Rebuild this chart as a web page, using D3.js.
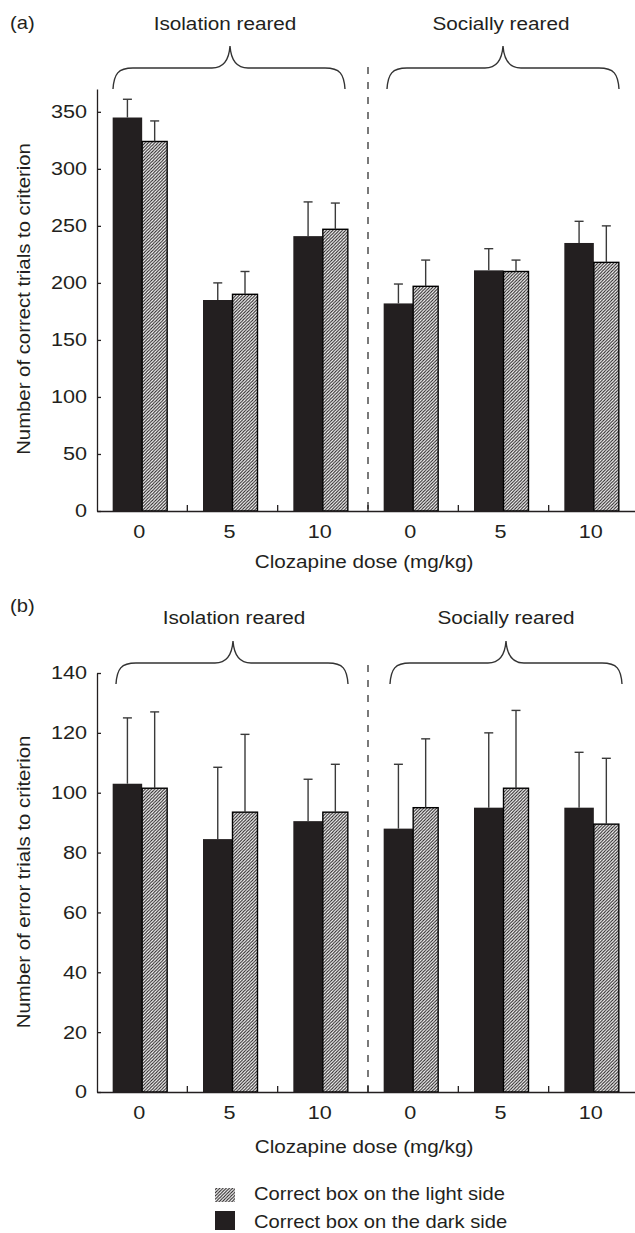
<!DOCTYPE html>
<html>
<head>
<meta charset="utf-8">
<script src="https://cdn.jsdelivr.net/npm/d3@7"></script>
<style>
body { margin: 0; background: #fff; }
svg text { font-family: "Liberation Sans", Arial, Helvetica, sans-serif; fill: #231f20; }
</style>
</head>
<body>
<svg id="chart" width="635" height="1233"></svg>
<script>
// groups on the x axis (isolation reared first, then socially reared)
var groups = ["iso0", "iso5", "iso10", "soc0", "soc5", "soc10"];
var doseLabels = ["0", "5", "10", "0", "5", "10"];

// panel (a): correct trials to criterion (mean, SEM)
var correctDark = [345, 185, 241, 182, 211, 235];
var correctDarkSem = [16, 15, 30, 17, 19, 19];
var correctLight = [324, 190, 247, 197, 210, 218];
var correctLightSem = [18, 20, 23, 23, 10, 32];

// panel (b): error trials to criterion (mean, SEM)
var errorDark = [103, 84.5, 90.5, 88, 95, 95];
var errorDarkSem = [22, 24, 14, 21.5, 25, 18.5];
var errorLight = [101.5, 93.5, 93.5, 95, 101.5, 89.5];
var errorLightSem = [25.5, 26, 16, 23, 26, 22];

var correctTicks = [0, 50, 100, 150, 200, 250, 300, 350];
var errorTicks = [0, 20, 40, 60, 80, 100, 120, 140];

var ink = "#231f20";
var svg = d3.select("#chart");

// hatch pattern for the light side bars
var defs = svg.append("defs");
var pat = defs.append("pattern")
	.attr("id", "hatch")
	.attr("patternUnits", "userSpaceOnUse")
	.attr("width", 3.2).attr("height", 3.2);
pat.append("rect").attr("width", 3.2).attr("height", 3.2).attr("fill", "#fff");
pat.append("path")
	.attr("d", "M-0.8,0.8 L0.8,-0.8 M0,3.2 L3.2,0 M2.4,4 L4,2.4")
	.attr("stroke", ink).attr("stroke-width", 1);

// horizontally widened text, like the original typesetting
function label(g, str, x, y, size, sx, anchor, rot) {
	var t = g.append("text")
		.attr("transform", "translate(" + x + "," + y + ")" + (rot ? " rotate(" + rot + ")" : "") + " scale(" + sx + ",1)")
		.attr("text-anchor", anchor || "start")
		.style("font-size", size + "px")
		.text(str);
	return t;
}

// curly brace, ends pointing down
function brace(g, x0, x1, pk, yTop) {
	var yH = yTop + 22, yE = yTop + 43;
	var d = "M" + x0 + "," + yE +
		" C" + (x0 + 1) + "," + (yH + 6) + " " + (x0 + 5) + "," + yH + " " + (x0 + 20) + "," + yH +
		" L" + (pk - 18) + "," + yH +
		" C" + (pk - 6) + "," + yH + " " + (pk - 1) + "," + (yH - 8) + " " + pk + "," + yTop +
		" C" + (pk + 1) + "," + (yH - 8) + " " + (pk + 6) + "," + yH + " " + (pk + 18) + "," + yH +
		" L" + (x1 - 20) + "," + yH +
		" C" + (x1 - 5) + "," + yH + " " + (x1 - 1) + "," + (yH + 6) + " " + x1 + "," + yE;
	g.append("path").attr("d", d).attr("fill", "none")
		.attr("stroke", "#333").attr("stroke-width", 1.4);
}

var x = d3.scaleBand().domain(groups).range([97, 639]).padding(0);
var darkW = 29.5, lightW = 25;

function drawPanel(p) {
	var g = svg.append("g");
	var y = d3.scaleLinear().domain([0, p.yMax]).range([p.y0, p.yTopAxis]);

	// panel letter and group headings
	label(g, p.letter, 10, p.letterY, 18, 1.12, "start");
	label(g, "Isolation reared", p.isoCx, p.headY, 18.5, 1.12, "middle");
	label(g, "Socially reared", p.socCx, p.headY, 18.5, 1.12, "middle");
	brace(g, p.isoB[0], p.isoB[1], p.isoB[2], p.braceTop);
	brace(g, p.socB[0], p.socB[1], p.socB[2], p.braceTop);

	// dashed divider between rearing conditions
	g.append("line")
		.attr("x1", x("soc0")).attr("x2", x("soc0"))
		.attr("y1", p.dashTop).attr("y2", p.y0)
		.attr("stroke", "#333").attr("stroke-width", 1.3)
		.attr("stroke-dasharray", "7,8");

	// bars
	var rows = groups.map(function(k, i) {
		return { key: k, dark: p.dark[i], darkSem: p.darkSem[i], light: p.light[i], lightSem: p.lightSem[i] };
	});
	function cx(d) { return x(d.key) + x.bandwidth() / 2; }

	g.selectAll(".dark").data(rows).enter().append("rect")
		.attr("class", "dark")
		.attr("x", function(d) { return cx(d) - darkW; })
		.attr("y", function(d) { return y(d.dark); })
		.attr("width", darkW)
		.attr("height", function(d) { return p.y0 - y(d.dark); })
		.attr("fill", ink);

	g.selectAll(".light").data(rows).enter().append("rect")
		.attr("class", "light")
		.attr("x", function(d) { return cx(d); })
		.attr("y", function(d) { return y(d.light); })
		.attr("width", lightW)
		.attr("height", function(d) { return p.y0 - y(d.light); })
		.attr("fill", "url(#hatch)")
		.attr("stroke", "#000").attr("stroke-width", 1.4);

	// error bars (upper half only)
	var errs = [];
	rows.forEach(function(d) {
		errs.push({ x: cx(d) - darkW / 2, v: d.dark, s: d.darkSem });
		errs.push({ x: cx(d) + lightW / 2, v: d.light, s: d.lightSem });
	});
	var eb = g.selectAll(".err").data(errs).enter().append("g").attr("class", "err")
		.attr("stroke", "#3a3a3a").attr("stroke-width", 1.4);
	eb.append("line")
		.attr("x1", function(d) { return d.x; }).attr("x2", function(d) { return d.x; })
		.attr("y1", function(d) { return y(d.v); })
		.attr("y2", function(d) { return y(d.v + d.s); });
	eb.append("line")
		.attr("x1", function(d) { return d.x - 4.5; }).attr("x2", function(d) { return d.x + 4.5; })
		.attr("y1", function(d) { return y(d.v + d.s); })
		.attr("y2", function(d) { return y(d.v + d.s); });

	// y axis, ticks pointing inward
	var ya = g.append("g")
		.attr("transform", "translate(97,0)")
		.call(d3.axisLeft(y).tickValues(p.ticks).tickSize(-4).tickSizeOuter(0).tickPadding(0));
	ya.selectAll("path, line").attr("stroke", ink).attr("stroke-width", 1.3);
	ya.selectAll("text")
		.attr("x", null)
		.attr("transform", "translate(-10,0) scale(1.17,1)")
		.style("font-size", "18.5px")
		.style("font-family", "'Liberation Sans', Arial, sans-serif")
		.attr("fill", ink);

	// x axis, dose labels under each group
	var xa = g.append("g")
		.attr("transform", "translate(0," + p.y0 + ")")
		.call(d3.axisBottom(x).tickSize(0).tickSizeOuter(0).tickPadding(14)
			.tickFormat(function(k, i) { return doseLabels[groups.indexOf(k)]; }));
	xa.select(".domain").attr("stroke", ink).attr("stroke-width", 1.3);
	xa.selectAll("text")
		.attr("transform", "translate(-3,0) scale(1.17,1)")
		.style("font-size", "18.5px")
		.style("font-family", "'Liberation Sans', Arial, sans-serif")
		.attr("fill", ink);

	// small upward ticks between the groups
	var bounds = groups.slice(1).map(function(k) { return x(k); }).concat([x.range()[1]]);
	xa.selectAll(".sep").data(bounds).enter().append("line")
		.attr("class", "sep")
		.attr("x1", function(d) { return d; }).attr("x2", function(d) { return d; })
		.attr("y1", 0).attr("y2", -6)
		.attr("stroke", ink).attr("stroke-width", 1.3);

	label(g, "Clozapine dose (mg/kg)", 364, p.xTitleY, 18.5, 1.12, "middle");
	label(g, p.yTitle, 30, p.yTitleCy, 18, 1.13, "middle", -90);
}

drawPanel({
	letter: "(a)", letterY: 29, headY: 30, isoCx: 225, socCx: 501,
	braceTop: 46, isoB: [113, 345, 230], socB: [387, 619, 503], dashTop: 67,
	y0: 511, yTopAxis: 89, yMax: 370, ticks: correctTicks,
	dark: correctDark, darkSem: correctDarkSem, light: correctLight, lightSem: correctLightSem,
	xTitleY: 568, yTitle: "Number of correct trials to criterion", yTitleCy: 299
});

drawPanel({
	letter: "(b)", letterY: 612, headY: 624, isoCx: 234, socCx: 506,
	braceTop: 641, isoB: [116, 348, 233], socB: [390, 622, 506], dashTop: 665,
	y0: 1092, yTopAxis: 673, yMax: 140, ticks: errorTicks,
	dark: errorDark, darkSem: errorDarkSem, light: errorLight, lightSem: errorLightSem,
	xTitleY: 1153, yTitle: "Number of error trials to criterion", yTitleCy: 882
});

// legend
var lg = svg.append("g");
lg.append("rect").attr("x", 215).attr("y", 1188).attr("width", 20).attr("height", 14)
	.attr("fill", "url(#hatch)");
lg.append("rect").attr("x", 215).attr("y", 1211).attr("width", 20).attr("height", 19)
	.attr("fill", ink);
label(lg, "Correct box on the light side", 254, 1200, 18, 1.12, "start");
label(lg, "Correct box on the dark side", 254, 1228, 18, 1.12, "start");
</script>
</body>
</html>
